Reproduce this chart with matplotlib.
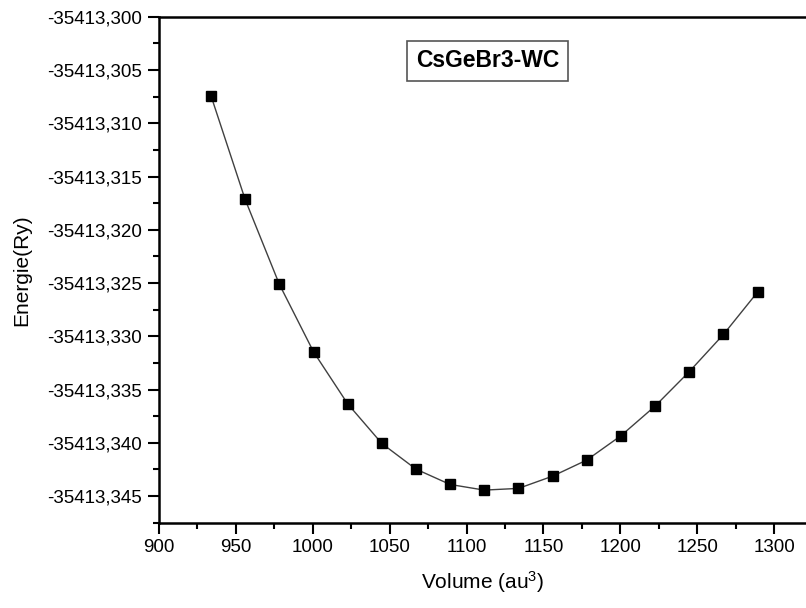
import matplotlib
matplotlib.use("Agg")
import matplotlib.pyplot as plt
from matplotlib.ticker import MultipleLocator, FuncFormatter

plt.rcParams['font.family'] = ['Liberation Sans', 'DejaVu Sans']
plt.rcParams['mathtext.fontset'] = 'custom'
plt.rcParams['mathtext.rm'] = 'Liberation Sans'
plt.rcParams['mathtext.it'] = 'Liberation Sans:italic'

volume = [933.8, 956.0, 978.2, 1000.5, 1022.7, 1044.9, 1067.1, 1089.3, 1111.5,
          1133.8, 1156.0, 1178.2, 1200.4, 1222.6, 1244.8, 1267.1, 1289.3]
energy = [-35413.30742, -35413.31715, -35413.32510, -35413.33146, -35413.33634,
          -35413.34006, -35413.34247, -35413.34391, -35413.34444, -35413.34428,
          -35413.34313, -35413.34162, -35413.33934, -35413.33656, -35413.33333,
          -35413.32983, -35413.32585]
label = "CsGeBr3-WC"

fig = plt.figure(figsize=(8.06, 6.08), dpi=100)
ax = fig.add_axes([0.1973, 0.1403, 0.8027, 0.8322])
ax.plot(volume, energy, color='#404040', lw=1.0, marker='s', ms=7.5,
        mfc='black', mec='black')

ax.set_xlim(900, 1320.8)
ax.set_ylim(-35413.3475, -35413.300)
ax.xaxis.set_major_locator(MultipleLocator(50))
ax.xaxis.set_minor_locator(MultipleLocator(25))
ax.yaxis.set_major_locator(MultipleLocator(0.005))
ax.yaxis.set_minor_locator(MultipleLocator(0.0025))
ax.yaxis.set_major_formatter(FuncFormatter(lambda v, p: f"{v:.3f}".replace('.', ',')))
ax.tick_params(which='major', direction='out', length=8, width=1.5, labelsize=13.5, pad=4)
ax.tick_params(which='minor', direction='out', length=4, width=1.5)
for s in ['left', 'bottom', 'top']:
    ax.spines[s].set_linewidth(1.8)
ax.spines['right'].set_visible(False)

ax.set_xlabel('Volume (au$^{3}$)', fontsize=15, labelpad=9)
ax.set_ylabel('Energie(Ry)', fontsize=15, labelpad=12)

ax.text(0.5077, 0.9125, label, transform=ax.transAxes, fontsize=16.5,
        fontweight='bold', ha='center', va='center', zorder=5,
        bbox=dict(boxstyle='square,pad=0.38', fc='white', ec='#555555', lw=1.2))

fig.savefig('out.png', dpi=100)
